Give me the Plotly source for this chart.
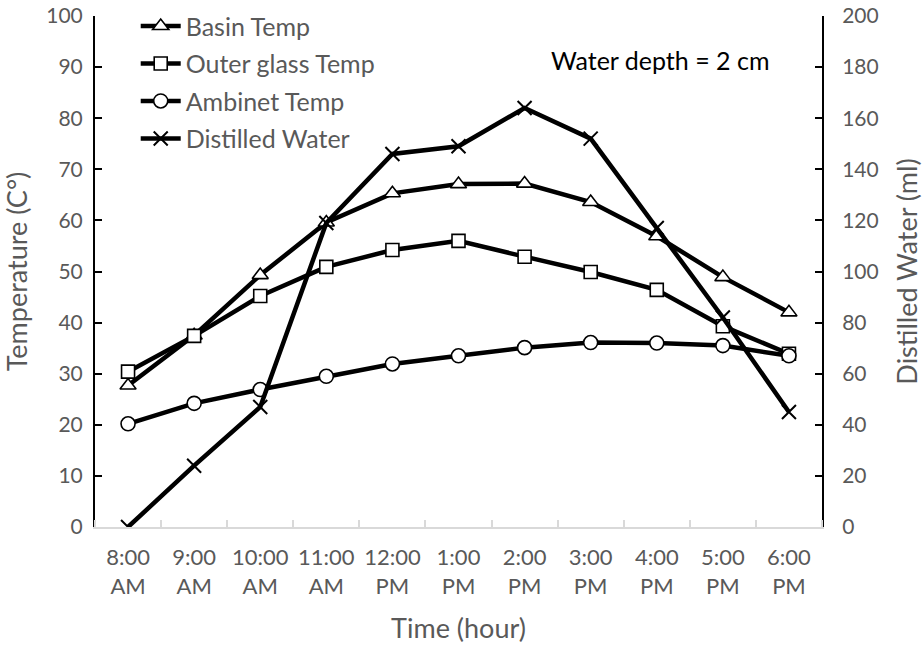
import plotly.graph_objects as go

# Hourly readings
hours = ["8:00", "9:00", "10:00", "11:00", "12:00", "1:00",
         "2:00", "3:00", "4:00", "5:00", "6:00"]
meridiem = ["AM", "AM", "AM", "AM", "PM", "PM", "PM", "PM", "PM", "PM", "PM"]

basin_temp = [27.7, 37.5, 49.3, 59.6, 65.3, 67.1, 67.2, 63.6, 56.9, 48.9, 42.0]
outer_glass_temp = [30.4, 37.4, 45.2, 50.9, 54.2, 56.0, 52.9, 49.9, 46.4, 39.3, 33.9]
ambient_temp = [20.2, 24.2, 26.9, 29.5, 31.9, 33.5, 35.1, 36.1, 36.0, 35.5, 33.5]
distilled_water = [0, 24, 47, 119, 146, 149, 164, 152, 117, 82, 45]

FONT = "Lato, 'Open Sans', sans-serif"
GRAY = "#595959"

xpos = list(range(len(hours)))
xlabels = [f"{h}<br>{m}" for h, m in zip(hours, meridiem)]

fig = go.Figure()

line = dict(color="black", width=4.5)


def mk(symbol, size=13, lw=1.6):
    return dict(symbol=symbol, size=size, color="white",
                line=dict(color="black", width=lw))


fig.add_trace(go.Scatter(x=xpos, y=basin_temp, name="Basin Temp",
                         mode="lines+markers", line=line,
                         marker=mk("triangle-up", 14), legendgroup="a"))
fig.add_trace(go.Scatter(x=xpos, y=outer_glass_temp, name="Outer glass Temp",
                         mode="lines+markers", line=line,
                         marker=mk("square", 13), legendgroup="b"))
fig.add_trace(go.Scatter(x=xpos, y=ambient_temp, name="Ambinet Temp",
                         mode="lines+markers", line=line,
                         marker=mk("circle", 14), legendgroup="c"))
fig.add_trace(go.Scatter(x=xpos, y=distilled_water, name="Distilled Water",
                         mode="lines+markers", line=line, yaxis="y2",
                         marker=dict(symbol="x-thin", size=14,
                                     line=dict(color="black", width=2)),
                         legendgroup="d"))

tick_font = dict(family=FONT, size=21, color=GRAY)
xtick_font = dict(family=FONT, size=22, color=GRAY)
title_font = dict(family=FONT, size=27, color=GRAY)

fig.update_layout(
    width=923, height=646,
    margin=dict(l=95, r=101, t=16, b=119, autoexpand=False),
    paper_bgcolor="white", plot_bgcolor="white",
    font=dict(family=FONT, color=GRAY),
    showlegend=True,
    legend=dict(x=0.056, y=1.025, xanchor="left", yanchor="top",
                bgcolor="rgba(0,0,0,0)", font=dict(family=FONT, size=25, color=GRAY),
                tracegroupgap=2, itemwidth=40),
    xaxis=dict(range=[-0.5, 10.5], tickmode="array", tickvals=xpos, ticktext=xlabels,
               ticks="", showgrid=False, zeroline=False,
               showline=True, linecolor="#d9d9d9", linewidth=1.5,
               tickfont=xtick_font, ticklabelstandoff=10,
               minor=dict(tickmode="array",
                          tickvals=[v - 0.5 for v in xpos] + [10.5],
                          ticks="inside", ticklen=7, tickcolor="#d9d9d9",
                          tickwidth=1.5, showgrid=False),
               title=dict(text="Time (hour)", font=title_font, standoff=21)),
    yaxis=dict(range=[0, 100], dtick=10, showgrid=False, zeroline=False,
               showline=True, linecolor="black", linewidth=2,
               ticks="inside", ticklen=7, tickwidth=2, tickcolor="black",
               tickfont=tick_font, ticklabelstandoff=6,
               title=dict(text="Temperature (C°)", font=title_font, standoff=14)),
    yaxis2=dict(range=[0, 200], dtick=20, overlaying="y", side="right",
                showgrid=False, zeroline=False,
                showline=True, linecolor="black", linewidth=2,
                ticks="inside", ticklen=7, tickwidth=2, tickcolor="black",
                tickfont=tick_font, ticklabelstandoff=14,
                title=dict(text="Distilled Water (ml)", font=title_font, standoff=20)),
    annotations=[dict(text="Water depth = 2 cm", xref="paper", yref="paper",
                      x=0.777, y=0.914, xanchor="center", yanchor="middle",
                      showarrow=False,
                      font=dict(family=FONT, size=25, color="black"))],
)

fig.write_html("out.html")
